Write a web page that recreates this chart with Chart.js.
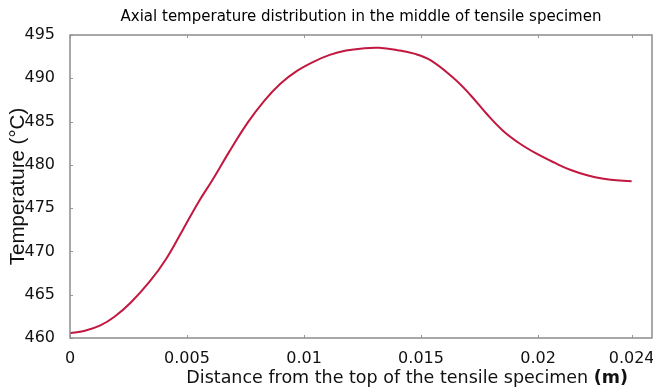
<!DOCTYPE html>
<html>
<head>
<meta charset="utf-8">
<script src="https://cdn.jsdelivr.net/npm/chart.js@4"></script>
<style>
  body { margin: 0; background: #fff; }
  #wrap { width: 653px; height: 388px; }
</style>
</head>
<body>
<div id="wrap"><canvas id="lineChart"></canvas></div>
<script>
const distance = [0, 0.0006, 0.0013, 0.0019, 0.0026, 0.0034, 0.0041, 0.0048, 0.0055, 0.0061,
  0.0068, 0.0076, 0.0083, 0.009, 0.0097, 0.0104, 0.0111, 0.0118, 0.0125, 0.0132,
  0.014, 0.0147, 0.0154, 0.0164, 0.0171, 0.0178, 0.0185, 0.0192, 0.0199, 0.0207,
  0.0214, 0.0221, 0.0228, 0.0235, 0.024];
const temperature = [460.55, 460.8, 461.45, 462.45, 464.1, 466.5, 469.1, 472.4, 475.75, 478.3,
  481.5, 484.9, 487.4, 489.4, 490.85, 491.9, 492.7, 493.2, 493.45, 493.52,
  493.25, 492.85, 492.1, 490.0, 488.1, 485.9, 483.95, 482.5, 481.35, 480.25,
  479.4, 478.8, 478.4, 478.18, 478.12];
const xTicks = [0, 0.005, 0.01, 0.015, 0.02, 0.024];
const xTickLabels = ['0', '0.005', '0.01', '0.015', '0.02', '0.024'];
const yTicks = [460, 465, 470, 475, 480, 485, 490, 495];
const xTitle = 'Distance from the top of the tensile specimen ';
const xUnit = '(m)';

// small inward ticks on the frame, like the original plot
const innerTicks = {
  id: 'innerTicks',
  afterDraw(chart) {
    const { ctx, chartArea, scales } = chart;
    ctx.save();
    ctx.strokeStyle = '#999';
    ctx.lineWidth = 1;
    ctx.beginPath();
    scales.x.ticks.forEach(t => {
      const px = Math.round(scales.x.getPixelForValue(t.value)) + 0.5;
      ctx.moveTo(px, chartArea.bottom); ctx.lineTo(px, chartArea.bottom - 3);
      ctx.moveTo(px, chartArea.top); ctx.lineTo(px, chartArea.top + 3);
    });
    scales.y.ticks.forEach(t => {
      const py = Math.round(scales.y.getPixelForValue(t.value)) + 0.5;
      ctx.moveTo(chartArea.left, py); ctx.lineTo(chartArea.left + 3, py);
    });
    ctx.stroke();
    ctx.strokeStyle = '#8c8c8c';
    ctx.lineWidth = 1.5;
    ctx.strokeRect(chartArea.left, chartArea.top, chartArea.right - chartArea.left, chartArea.bottom - chartArea.top);

    // x axis title with bold unit
    ctx.fillStyle = '#111';
    ctx.textBaseline = 'middle';
    ctx.textAlign = 'left';
    ctx.font = '17.5px "DejaVu Sans"';
    const w1 = ctx.measureText(xTitle).width;
    ctx.font = 'bold 17.5px "DejaVu Sans"';
    const w2 = ctx.measureText(xUnit).width;
    const x0 = chartArea.right - 24 - w1 - w2;
    const y0 = chartArea.bottom + 40;
    ctx.font = '17.5px "DejaVu Sans"';
    ctx.fillText(xTitle, x0, y0);
    ctx.font = 'bold 17.5px "DejaVu Sans"';
    ctx.fillText(xUnit, x0 + w1, y0);
    ctx.restore();
  }
};

const ctx = document.getElementById('lineChart');

new Chart(ctx, {
  type: 'scatter',
  data: {
    datasets: [{
      label: 'Temperature',
      data: distance.map((d, i) => ({ x: d, y: temperature[i] })),
      showLine: true,
      borderColor: '#c2173f',
      borderWidth: 2,
      pointRadius: 0,
      tension: 0.4
    }]
  },
  options: {
    responsive: true,
    maintainAspectRatio: false,
    animation: false,
    layout: { padding: { top: 0, right: 1, bottom: 0, left: 0 } },
    plugins: {
      legend: { display: false },
      tooltip: { enabled: false },
      title: {
        display: true,
        fullSize: false,
        text: 'Axial temperature distribution in the middle of tensile specimen',
        color: '#000',
        font: { family: 'DejaVu Sans', size: 15, weight: 'normal', lineHeight: 1.2 },
        padding: { top: 8, bottom: 9 }
      }
    },
    scales: {
      x: {
        type: 'linear',
        min: 0,
        max: 0.02487,
        afterBuildTicks: s => { s.ticks = xTicks.map(v => ({ value: v })); },
        afterFit: s => { s.height = 50; s.paddingLeft = 0; s.paddingRight = 0; },
        ticks: {
          color: '#111',
          font: { family: 'DejaVu Sans', size: 16 },
          padding: 3,
          maxRotation: 0,
          callback: (v) => xTickLabels[xTicks.indexOf(v)]
        },
        grid: { display: false },
        border: { display: false },
        title: { display: false }
      },
      y: {
        min: 460,
        max: 495,
        afterBuildTicks: s => { s.ticks = yTicks.map(v => ({ value: v })); },
        afterFit: s => { s.width = 70; },
        ticks: {
          color: '#111',
          font: { family: 'DejaVu Sans', size: 16 },
          padding: 7
        },
        grid: { display: false },
        border: { display: false },
        title: {
          display: true,
          text: 'Temperature (°C)',
          color: '#111',
          font: { family: 'Liberation Sans', size: 20.5, lineHeight: 1.2 },
          padding: { top: 6, bottom: 0 }
        }
      }
    }
  },
  plugins: [innerTicks]
});
</script>
</body>
</html>
